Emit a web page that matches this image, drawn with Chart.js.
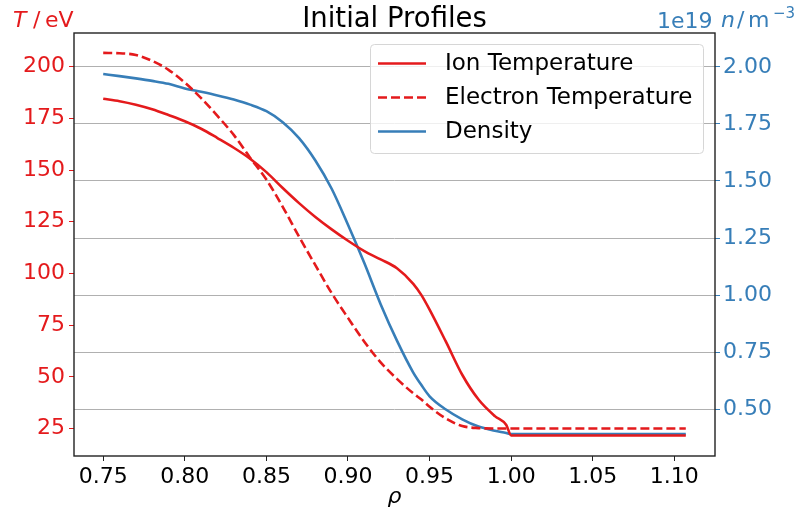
<!DOCTYPE html>
<html>
<head>
<meta charset="utf-8">
<script src="https://cdn.jsdelivr.net/npm/chart.js@4.4.1/dist/chart.umd.min.js"></script>
<style>
  html, body { margin: 0; padding: 0; background: #fff; }
  #wrap { width: 800px; height: 513px; }
</style>
</head>
<body>
<div id="wrap"><canvas id="profiles" width="800" height="513"></canvas></div>
<script>
// Profile data
const rho = [0.75, 0.76, 0.77, 0.78, 0.79, 0.80, 0.81, 0.82, 0.83, 0.84,
             0.85, 0.86, 0.87, 0.88, 0.89, 0.90, 0.91, 0.92, 0.93, 0.94,
             0.945, 0.95, 0.96, 0.97, 0.98, 0.99, 0.997, 1.00, 1.107];
const ionTemp = [184.5, 183.3, 181.6, 179.4, 176.6, 173.6, 170.0, 165.5, 160.8, 155.5,
                 149.0, 141.3, 134.0, 127.3, 121.3, 115.8, 110.8, 106.8, 102.5, 95.0,
                 89.5, 82.5, 67.0, 51.0, 39.0, 31.0, 26.7, 21.6, 21.6];
const elecTemp = [206.7, 206.5, 205.7, 202.8, 198.5, 192.3, 184.8, 176.2, 167.0, 156.0,
                  145.4, 132.2, 117.8, 104.0, 90.5, 78.5, 67.0, 57.0, 49.0, 42.0,
                  39.0, 35.5, 29.8, 26.2, 25.2, 25.0, 25.0, 25.0, 25.0];
const density = [1.969, 1.960, 1.950, 1.939, 1.926, 1.906, 1.891, 1.875, 1.857, 1.835,
                 1.806, 1.758, 1.688, 1.590, 1.466, 1.308, 1.140, 0.960, 0.800, 0.660,
                 0.605, 0.556, 0.498, 0.455, 0.423, 0.405, 0.395, 0.390, 0.390];

// Tick values
const rhoTicks = [0.75, 0.80, 0.85, 0.90, 0.95, 1.00, 1.05, 1.10];
const tempTicks = [25, 50, 75, 100, 125, 150, 175, 200];
const densTicks = [0.50, 0.75, 1.00, 1.25, 1.50, 1.75, 2.00];

const RED = "#e41a1c";
const BLUE = "#377eb8";
const FONT = "'DejaVu Sans', sans-serif";

function pts(ys){ return rho.map((x, i) => ({ x: x, y: ys[i] })); }

// Decorations: frame, title, axis labels, legend
const decor = {
  id: "decor",
  afterDatasetsDraw(chart){
    const { ctx, chartArea: a } = chart;
    ctx.save();
    ctx.strokeStyle = "#222";
    ctx.lineWidth = 1.4;
    ctx.strokeRect(a.left, a.top, a.right - a.left, a.bottom - a.top);

    // legend
    const lx = 370, ly = 44, lw = 333, lh = 109;
    ctx.fillStyle = "rgba(255,255,255,0.8)";
    ctx.strokeStyle = "#d6d6d6";
    ctx.lineWidth = 1;
    ctx.beginPath();
    ctx.roundRect(lx + 0.5, ly + 0.5, lw, lh, 4);
    ctx.fill();
    ctx.stroke();
    ctx.font = "23px " + FONT;
    ctx.textBaseline = "middle";
    chart.data.datasets.forEach((ds, i) => {
      const y = 63.5 + i * 34;
      ctx.strokeStyle = ds.borderColor;
      ctx.lineWidth = ds.borderWidth;
      ctx.setLineDash(ds.borderDash || []);
      ctx.beginPath();
      ctx.moveTo(378, y);
      ctx.lineTo(426, y);
      ctx.stroke();
      ctx.setLineDash([]);
      ctx.fillStyle = "#000";
      ctx.textAlign = "left";
      ctx.fillText(ds.label, 445, y + 1);
    });

    // title
    ctx.fillStyle = "#000";
    ctx.textAlign = "center";
    ctx.textBaseline = "alphabetic";
    ctx.font = "27.5px " + FONT;
    ctx.fillText("Initial Profiles", (a.left + a.right) / 2, 27);

    // x label
    ctx.font = "italic 22px " + FONT;
    ctx.fillText("ρ", (a.left + a.right) / 2, 503);

    // left label
    ctx.fillStyle = RED;
    ctx.textAlign = "left";
    ctx.font = "italic 22px " + FONT;
    ctx.fillText("T", 13, 27);
    ctx.font = "22px " + FONT;
    ctx.fillText("/", 33, 27);
    ctx.fillText("eV", 45, 27);

    // right label with offset
    ctx.fillStyle = BLUE;
    ctx.font = "22px " + FONT;
    ctx.fillText("1e19", 657, 28);
    ctx.font = "italic 22px " + FONT;
    ctx.fillText("n", 721, 27);
    ctx.font = "22px " + FONT;
    ctx.fillText("/", 737, 27);
    ctx.fillText("m", 748, 27);
    ctx.font = "15px " + FONT;
    ctx.fillText("−3", 773, 18);
    ctx.restore();
  }
};

const chart = new Chart(document.getElementById("profiles"), {
  type: "line",
  data: {
    datasets: [
      { label: "Ion Temperature", data: pts(ionTemp), yAxisID: "yT",
        borderColor: RED, borderWidth: 2.6 },
      { label: "Electron Temperature", data: pts(elecTemp), yAxisID: "yT",
        borderColor: RED, borderWidth: 2.6, borderDash: [9, 4] },
      { label: "Density", data: pts(density), yAxisID: "yN",
        borderColor: BLUE, borderWidth: 2.6 }
    ]
  },
  options: {
    responsive: false,
    animation: false,
    events: [],
    elements: { point: { radius: 0 }, line: { cubicInterpolationMode: "monotone", fill: false } },
    layout: { padding: { top: 33, left: 0, right: 0, bottom: 0 } },
    plugins: { legend: { display: false }, tooltip: { enabled: false }, title: { display: false } },
    scales: {
      x: {
        type: "linear", min: 0.7321, max: 1.1249,
        afterBuildTicks: s => { s.ticks = rhoTicks.map(v => ({ value: v })); },
        afterFit: s => { s.height = 57; },
        grid: { drawOnChartArea: false, drawTicks: true, tickLength: 5, tickColor: "#222" },
        border: { display: false },
        ticks: { color: "#000", font: { family: FONT, size: 22 }, padding: 3,
                 maxRotation: 0, autoSkip: false, callback: v => v.toFixed(2) }
      },
      yT: {
        type: "linear", position: "left", min: 11.7, max: 216.3,
        afterBuildTicks: s => { s.ticks = tempTicks.map(v => ({ value: v })); },
        afterFit: s => { s.width = 74; },
        grid: { drawOnChartArea: false, drawTicks: true, tickLength: 5, tickColor: RED },
        border: { display: false },
        ticks: { color: RED, font: { family: FONT, size: 22 }, padding: 4, autoSkip: false,
                 callback: v => String(v) }
      },
      yN: {
        type: "linear", position: "right", min: 0.294, max: 2.149,
        afterBuildTicks: s => { s.ticks = densTicks.map(v => ({ value: v })); },
        afterFit: s => { s.width = 85; },
        grid: { drawOnChartArea: true, color: "#b0b0b0", lineWidth: 1, drawTicks: true,
                tickLength: 5, tickColor: BLUE },
        border: { display: false },
        ticks: { color: BLUE, font: { family: FONT, size: 22 }, padding: 3, autoSkip: false,
                 callback: v => v.toFixed(2) }
      }
    }
  },
  plugins: [decor]
});
</script>
</body>
</html>
